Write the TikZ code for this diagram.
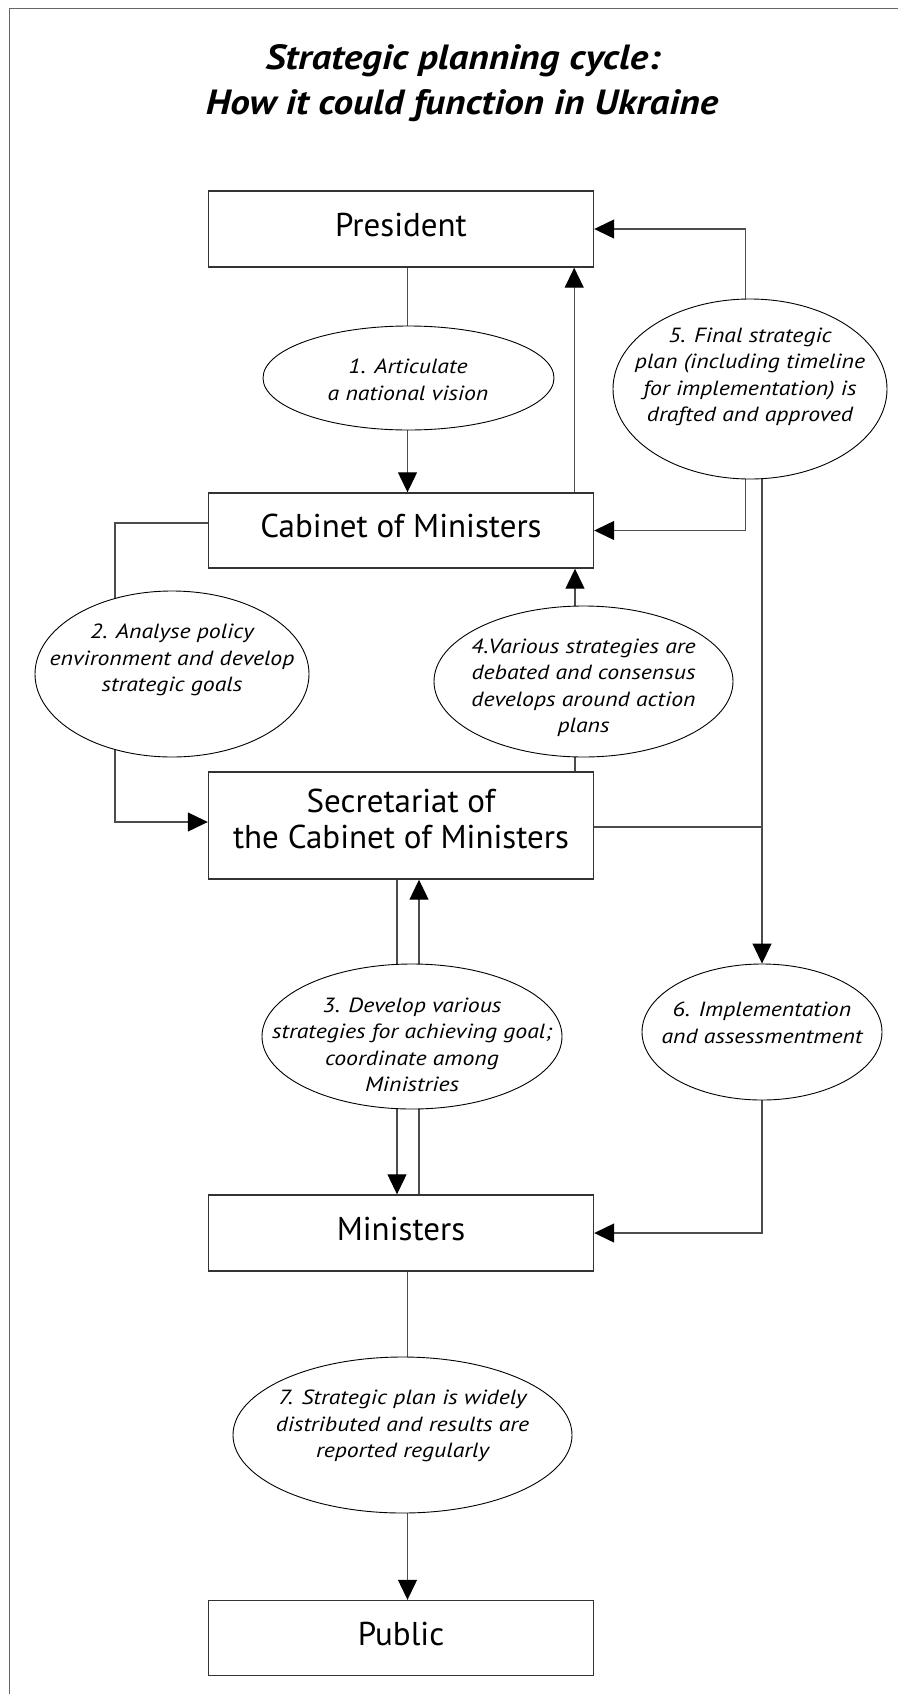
\documentclass[tikz,border=0pt]{standalone}
\usepackage{fontspec}
\setmainfont{PT Sans}
\newfontfamily\titlefont[FakeStretch=1.12]{PT Sans}
\newfontfamily\ovalfont[FakeStretch=1.16]{PT Sans}
\usetikzlibrary{arrows.meta,shapes.geometric,backgrounds,calc}
\begin{document}
\begin{tikzpicture}[x=1pt,y=-1pt,
  box/.style={draw=black!80,line width=1.4pt,fill=white,minimum width=385pt,inner sep=0pt,align=center,text depth=9pt,font=\fontsize{33}{36}\selectfont},
  oval/.style={ellipse,draw=black,line width=0.9pt,fill=white,inner sep=0pt},
  otext/.style={align=center,inner sep=0pt,font=\fontsize{20.5}{26.5}\ovalfont\itshape},
  ttl/.style={anchor=base,inner sep=0pt,font=\fontsize{35}{44}\titlefont\bfseries\itshape},
  conn/.style={draw=black!70,line width=1.2pt},
  arr/.style={conn,-{Triangle[length=20pt,width=19pt,color=black]}},
  frame/.style={draw=black!60,line width=1.6pt}
]
\useasboundingbox (0,0) rectangle (898,1694);
\draw[frame] (9.5,1694) -- (9.5,8.5) -- (898,8.5);

\node[ttl] (title1) at (463,69.5) {Strategic planning cycle:};
\node[ttl] (title2) at (462,114) {How it could function in Ukraine};

% boxes
\node[box,minimum height=76pt] (pres) at (401,229) {President};
\node[box,minimum height=75pt] (cab) at (401,530.5) {Cabinet of Ministers};
\node[box,minimum height=107pt,text depth=14pt] (sec) at (401,825.5) {Secretariat of\\the Cabinet of Ministers};
\node[box,minimum height=76pt] (mins) at (401,1233) {Ministers};
\node[box,minimum height=75pt] (pub) at (401,1638) {Public};

% ellipses
\node[oval,minimum width=291pt,minimum height=104pt] (e1) at (408.5,378) {};
\node[oval,minimum width=274pt,minimum height=166pt] (e2) at (172,674) {};
\node[oval,minimum width=300pt,minimum height=145pt] (e3) at (412,1036.5) {};
\node[oval,minimum width=299pt,minimum height=151pt] (e4) at (583.5,681.5) {};
\node[oval,minimum width=274pt,minimum height=180pt] (e5) at (750,389) {};
\node[oval,minimum width=240pt,minimum height=136pt] (e6) at (762,1032) {};
\node[oval,minimum width=339pt,minimum height=156pt] (e7) at (402.5,1435) {};

% ellipse texts
\node[otext] (t1) at (408,380) {1. Articulate\\a national vision};
\node[otext] (t2) at (172,660) {2. Analyse policy\\environment and develop\\strategic goals};
\node[otext] (t3) at (412,1045) {3. Develop various\\strategies for achieving goal;\\coordinate among\\Ministries};
\node[otext] (t4) at (583.5,688) {4.Various strategies are\\debated and consensus\\develops around action\\plans};
\node[otext] (t5) at (750,377) {5. Final strategic\\plan (including timeline\\for implementation) is\\drafted and approved};
\node[otext] (t6) at (762,1023) {6. Implementation\\and assessmentment};
\node[otext] (t7) at (402.5,1426) {7. Strategic plan is widely\\distributed and results are\\reported regularly};

% helper coordinates
\coordinate (x1) at ($(e1)+(-1,0)$);
\coordinate (j2) at (115,674);
\coordinate (x3a) at ($(e3)+(-15,0)$);
\coordinate (x3b) at ($(e3)+(7,0)$);
\coordinate (x4) at ($(e4)+(-8.5,0)$);
\coordinate (x5a) at ($(e5)+(-4.5,0)$);
\coordinate (x5b) at ($(e5)+(12,0)$);
\coordinate (x7) at ($(e7)+(5,0)$);
\coordinate (xc) at ($(cab.north east)+(-20,0)$);
\coordinate (s2) at ($(sec.west)+(0,-3.5)$);
\coordinate (c2) at ($(cab.west)+(0,-7.5)$);
\coordinate (s5) at ($(sec.east)+(0,1.5)$);

\begin{scope}[on background layer]
  % 1
  \draw[conn] (x1 |- pres.south) -- (x1);
  \draw[arr] (x1) -- (x1 |- cab.north);
  \draw[arr] (xc) -- (xc |- pres.south);
  % 2
  \draw[conn] (c2) -| (j2);
  \draw[arr] (j2) |- (s2);
  % 4
  \draw[arr] (x4) -- (x4 |- cab.south);
  \draw[conn] (x4 |- sec.north) -- (x4);
  % 3
  \draw[conn] (x3a |- sec.south) -- (x3a);
  \draw[arr] (x3b) -- (x3b |- sec.south);
  \draw[arr] (x3a) -- (x3a |- mins.north);
  \draw[conn] (x3b |- mins.north) -- (x3b);
  % 5
  \draw[arr] (x5a) |- (pres.east);
  \draw[arr] (x5a) |- (cab.east);
  \draw[arr] (x5b) -- (x5b |- e6.north);
  \draw[conn] (s5) -- (s5 -| x5b);
  % 6
  \draw[arr] (e6) |- (mins.east);
  % 7
  \draw[conn] (x7 |- mins.south) -- (x7);
  \draw[arr] (x7) -- (x7 |- pub.north);
\end{scope}
\end{tikzpicture}
\end{document}
